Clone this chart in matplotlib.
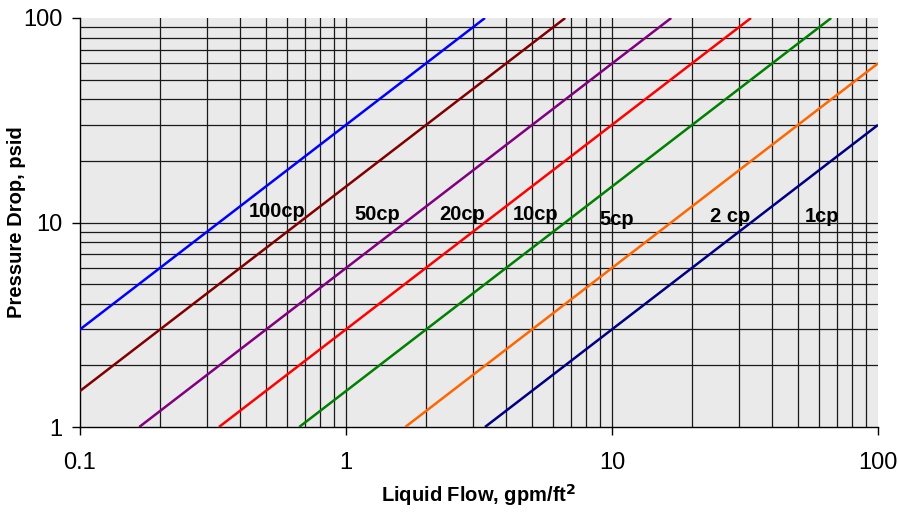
import matplotlib
matplotlib.use("Agg")
import matplotlib.pyplot as plt
from matplotlib.ticker import FixedLocator, NullFormatter, FixedFormatter

# Data (endpoints of each straight line on log-log axes)
labels = ["100cp", "50cp", "20cp", "10cp", "5cp", "2 cp", "1cp"]
flow_a = [0.1, 0.1, 0.167, 0.333, 0.667, 1.67, 3.33]
dp_a = [3.0, 1.5, 1.0, 1.0, 1.0, 1.0, 1.0]
flow_b = [3.33, 6.67, 16.7, 33.3, 66.7, 100.0, 100.0]
dp_b = [100.0, 100.0, 100.0, 100.0, 100.0, 60.0, 30.0]
colors = ["#0000FF", "#800000", "#800080", "#FF0000", "#008000", "#FF6600", "#000080"]
label_x = [0.55, 1.31, 2.73, 5.14, 10.4, 27.8, 61.5]
label_y = [11.3, 10.9, 10.9, 10.9, 10.4, 10.7, 10.7]

x_ticks = [0.1, 1, 10, 100]
x_ticklabels = ["0.1", "1", "10", "100"]
y_ticks = [1, 10, 100]
y_ticklabels = ["1", "10", "100"]

FONT = "Liberation Sans"

fig = plt.figure(figsize=(8.98, 5.14), dpi=100)
ax = fig.add_axes([80/898, 1-427/514, (878-80)/898, (427-18)/514])
ax.set_facecolor("#EAEAEA")
ax.set_xscale("log")
ax.set_yscale("log")
ax.set_xlim(0.1, 100)
ax.set_ylim(1, 100)

# grid
minor_x = [m * 10**e for e in (-1, 0, 1) for m in range(2, 10)]
minor_y = [m * 10**e for e in (0, 1) for m in range(2, 10)]
for v in minor_x + [1, 10]:
    ax.axvline(v, color="#1a1a1a", lw=0.9, zorder=1)
for v in minor_y + [10]:
    ax.axhline(v, color="#1a1a1a", lw=0.9, zorder=1)

for i in range(len(labels)):
    ax.plot([flow_a[i], flow_b[i]], [dp_a[i], dp_b[i]], color=colors[i], lw=1.8, zorder=3,
            solid_capstyle="butt")
    ax.text(label_x[i], label_y[i], labels[i], ha="center", va="center",
            fontsize=14.5, fontweight="bold", zorder=4, family=FONT)

ax.xaxis.set_major_locator(FixedLocator(x_ticks))
ax.xaxis.set_major_formatter(FixedFormatter(x_ticklabels))
ax.yaxis.set_major_locator(FixedLocator(y_ticks))
ax.yaxis.set_major_formatter(FixedFormatter(y_ticklabels))
ax.xaxis.set_minor_locator(FixedLocator([]))
ax.yaxis.set_minor_locator(FixedLocator([]))
ax.xaxis.set_minor_formatter(NullFormatter())
ax.yaxis.set_minor_formatter(NullFormatter())
ax.tick_params(axis="both", which="major", direction="out", length=5.8, width=1,
               labelsize=17, color="black")
ax.tick_params(axis="y", pad=7)
ax.tick_params(axis="x", pad=12)
for lab in ax.get_xticklabels() + ax.get_yticklabels():
    lab.set_family(FONT)

for s in ("top", "right"):
    ax.spines[s].set_visible(False)
for s in ("left", "bottom"):
    ax.spines[s].set_color("black")
    ax.spines[s].set_linewidth(1)

ax.set_xlabel("Liquid Flow, gpm/ft$^\\mathbf{2}$", fontsize=14.5, fontweight="bold",
              family=FONT)
ax.set_ylabel("Pressure Drop, psid", fontsize=14.5, fontweight="bold", family=FONT)
ax.xaxis.set_label_coords(0.5, (427-495)/409)
ax.xaxis.label.set_va("center")
ax.yaxis.set_label_coords((17-80)/798, 0.5)
ax.yaxis.label.set_va("center")

fig.savefig("out.png", dpi=100)
